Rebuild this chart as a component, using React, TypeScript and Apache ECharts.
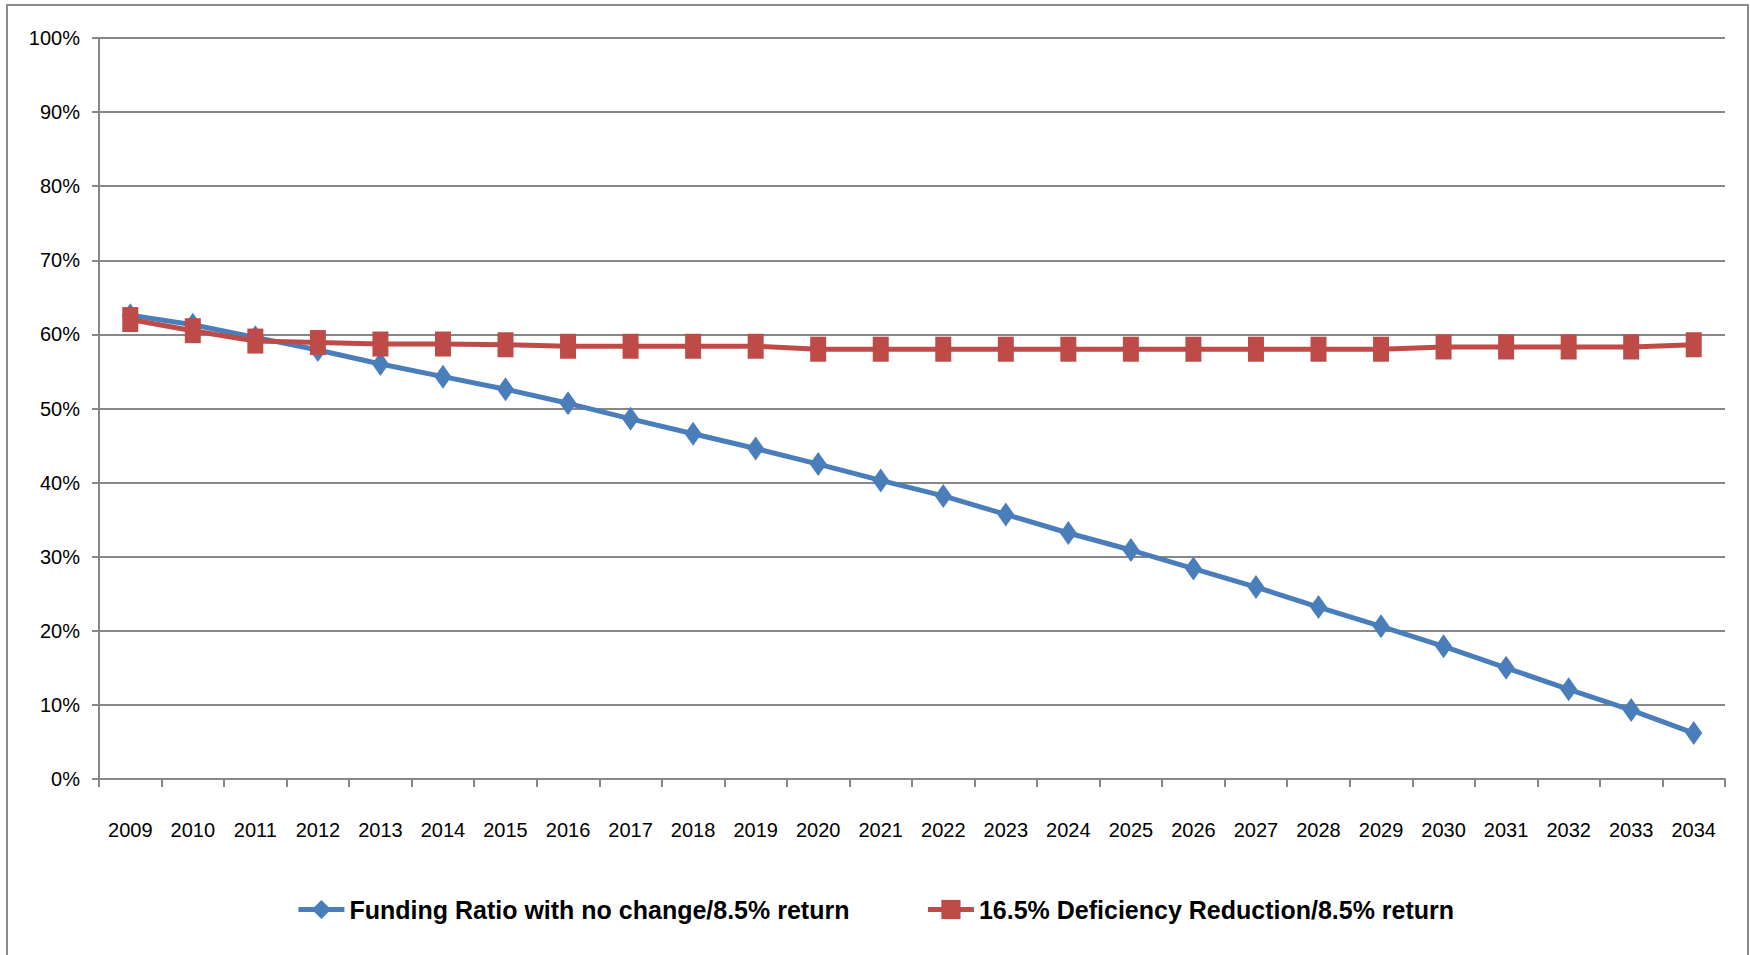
import React, { useEffect, useRef } from "react";
import * as echarts from "echarts";

const years = [
  "2009", "2010", "2011", "2012", "2013", "2014", "2015", "2016", "2017",
  "2018", "2019", "2020", "2021", "2022", "2023", "2024", "2025", "2026",
  "2027", "2028", "2029", "2030", "2031", "2032", "2033", "2034",
];

const noChange = [
  62.6, 61.3, 59.6, 57.9, 56.0, 54.3, 52.6, 50.7, 48.6, 46.6, 44.6, 42.5, 40.3,
  38.2, 35.7, 33.2, 30.9, 28.4, 25.9, 23.2, 20.6, 17.9, 15.0, 12.1, 9.3, 6.2,
];

const deficiencyReduction = [
  62.0, 60.5, 59.1, 58.9, 58.7, 58.7, 58.6, 58.4, 58.4, 58.4, 58.4, 58.0, 58.0,
  58.0, 58.0, 58.0, 58.0, 58.0, 58.0, 58.0, 58.0, 58.3, 58.3, 58.3, 58.3, 58.6,
];

const seriesNames = [
  "Funding Ratio with no change/8.5% return",
  "16.5% Deficiency Reduction/8.5% return",
];

const FONT = '"Liberation Sans", Arial, sans-serif';
const GRID_GRAY = "#878787";

export default function App() {
  const ref = useRef<HTMLDivElement>(null);

  useEffect(() => {
    if (!ref.current) return;
    const chart = echarts.init(ref.current, null, { renderer: "svg" });
    chart.setOption({
      animation: false,
      backgroundColor: "#ffffff",
      graphic: [
        {
          type: "rect",
          shape: { x: 7, y: 5, width: 1741, height: 970 },
          style: { fill: "none", stroke: "#8c8c8c", lineWidth: 2 },
          silent: true,
        },
      ],
      grid: { left: 99, right: 25, top: 38, bottom: 176, containLabel: false },
      legend: {
        bottom: 28,
        left: "center",
        itemGap: 76,
        itemWidth: 46,
        itemHeight: 24,
        lineStyle: { width: 5 },
        textStyle: {
          fontFamily: FONT,
          fontSize: 25,
          fontWeight: "bold",
          color: "#000",
        },
        data: [seriesNames[0], seriesNames[1]],
      },
      xAxis: {
        type: "category",
        data: years,
        boundaryGap: true,
        axisLine: { lineStyle: { color: GRID_GRAY, width: 2 } },
        axisTick: { show: true, length: 8, lineStyle: { color: GRID_GRAY, width: 2 } },
        axisLabel: {
          margin: 41,
          fontFamily: FONT,
          fontSize: 20,
          color: "#000",
          interval: 0,
        },
      },
      yAxis: {
        type: "value",
        min: 0,
        max: 100,
        interval: 10,
        axisLine: { show: true, lineStyle: { color: GRID_GRAY, width: 2 } },
        axisTick: { show: true, length: 7, lineStyle: { color: GRID_GRAY, width: 2 } },
        splitLine: { show: true, lineStyle: { color: GRID_GRAY, width: 2 } },
        axisLabel: {
          margin: 19,
          fontFamily: FONT,
          fontSize: 20,
          color: "#000",
          formatter: "{value}%",
        },
      },
      series: [
        {
          name: seriesNames[0],
          type: "line",
          data: noChange,
          symbol: "diamond",
          symbolSize: [17, 24],
          lineStyle: { color: "#4A7EBB", width: 5 },
          itemStyle: { color: "#4A7EBB" },
          z: 2,
        },
        {
          name: seriesNames[1],
          type: "line",
          data: deficiencyReduction,
          symbol: "rect",
          symbolSize: [16, 25],
          lineStyle: { color: "#BE4B48", width: 5 },
          itemStyle: { color: "#BE4B48" },
          z: 3,
        },
      ],
    });
    return () => chart.dispose();
  }, []);

  return (
    <div
      ref={ref}
      style={{ position: "absolute", left: 0, top: 0, width: 1750, height: 955 }}
    />
  );
}
